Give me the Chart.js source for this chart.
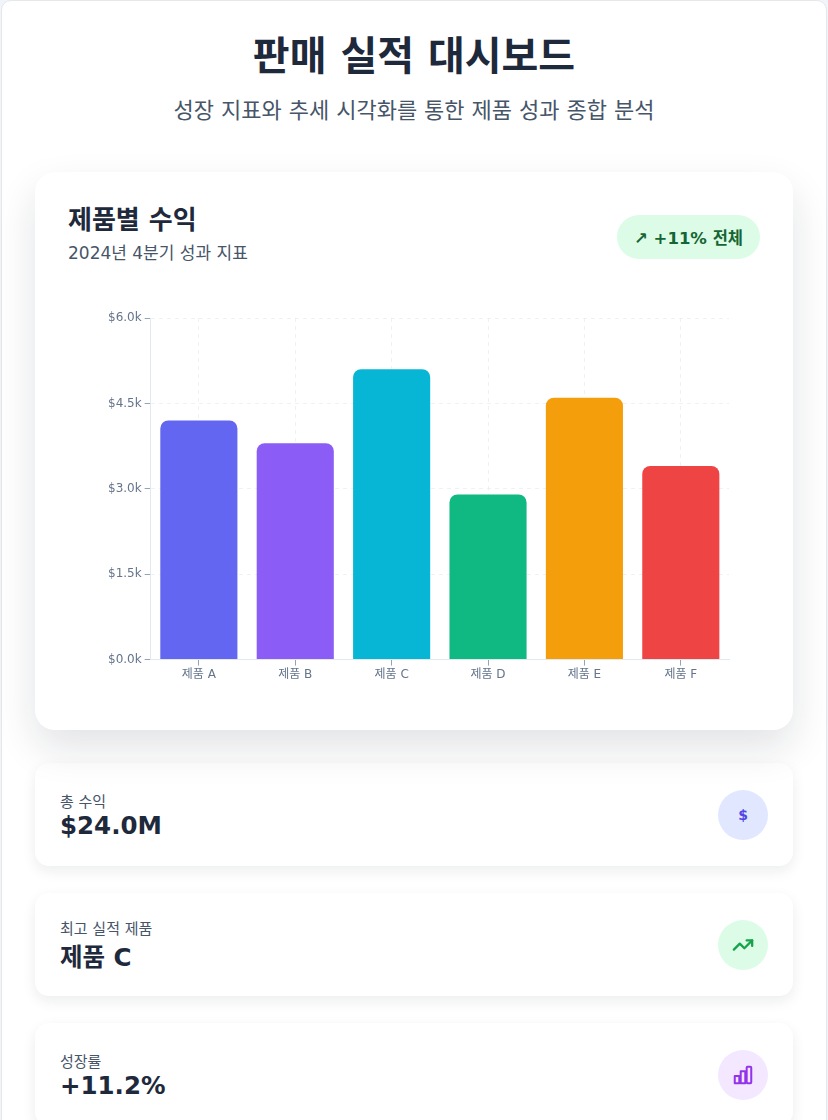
<!DOCTYPE html>
<html lang="ko">
<head>
<meta charset="utf-8">
<script src="https://cdn.jsdelivr.net/npm/chart.js@4.4.1/dist/chart.umd.min.js"></script>
<style>
  body { margin: 0; background: #f1f5f9; font-family: "DejaVu Sans", "Noto Sans CJK KR", sans-serif; color: #1e293b; }
  .page { background: #fff; border: 1px solid #e5e7eb; border-radius: 10px; margin: 0 1px; min-height: 1200px; box-sizing: border-box; padding: 30px 33px 0; }
  h1 { margin: 0; text-align: center; font-size: 40px; font-weight: 700; line-height: 50px; }
  .sub { text-align: center; font-size: 22px; color: #475569; margin-top: 11px; }
  .card { background: #fff; border-radius: 20px; box-shadow: 0 18px 40px rgba(15, 23, 42, 0.12); margin-top: 48px; padding: 30px 33px 20px; height: 558px; box-sizing: border-box; position: relative; }
  .card h2 { margin: 0; font-size: 26px; font-weight: 700; line-height: 36px; }
  .card .desc { font-size: 17px; color: #475569; margin-top: 1px; }
  .badge { position: absolute; right: 33px; top: 43px; background: #dcfce7; color: #166534; font-weight: 700; font-size: 16.5px; border-radius: 22px; padding: 10px 17px; }
  .chartbox { position: relative; height: 378px; margin-top: 42px; }
  .stat { background: #fff; border-radius: 14px; box-shadow: 0 5px 14px rgba(15, 23, 42, 0.08); height: 103px; margin-top: 33px; padding: 0 25px; display: flex; align-items: center; justify-content: space-between; box-sizing: border-box; }
  .stat + .stat { margin-top: 27px; }
  .stat .lbl { font-size: 15px; color: #475569; }
  .stat .val { font-size: 24.5px; font-weight: 700; margin-top: 0; }
  .icon { width: 50px; height: 50px; border-radius: 50%; display: flex; align-items: center; justify-content: center; font-weight: 700; font-size: 14px; }
</style>
</head>
<body>
<div class="page">
  <h1>판매 실적 대시보드</h1>
  <div class="sub">성장 지표와 추세 시각화를 통한 제품 성과 종합 분석</div>

  <div class="card">
    <h2>제품별 수익</h2>
    <div class="desc">2024년 4분기 성과 지표</div>
    <div class="badge">↗ +11% 전체</div>
    <div class="chartbox"><canvas id="revenue_chart"></canvas></div>
  </div>

  <div class="stat">
    <div><div class="lbl">총 수익</div><div class="val">$24.0M</div></div>
    <div class="icon" style="background:#e0e7ff;color:#4f46e5;">$</div>
  </div>
  <div class="stat">
    <div><div class="lbl">최고 실적 제품</div><div class="val">제품 C</div></div>
    <div class="icon" style="background:#dcfce7;">
      <svg width="22" height="22" viewBox="0 0 24 24" fill="none" stroke="#16a34a" stroke-width="2.5" stroke-linecap="round" stroke-linejoin="round"><polyline points="22 7 13.5 15.5 8.5 10.5 2 17"/><polyline points="16 7 22 7 22 13"/></svg>
    </div>
  </div>
  <div class="stat">
    <div><div class="lbl">성장률</div><div class="val">+11.2%</div></div>
    <div class="icon" style="background:#f3e8ff;">
      <svg width="22" height="22" viewBox="0 0 24 24" fill="none" stroke="#9333ea" stroke-width="2.2" stroke-linejoin="round"><rect x="3" y="13" width="5" height="8"/><rect x="9.5" y="8" width="5" height="13"/><rect x="16" y="3" width="5" height="18" rx="1"/></svg>
    </div>
  </div>
</div>

<script>
const PRODUCTS = ["제품 A", "제품 B", "제품 C", "제품 D", "제품 E", "제품 F"];
const REVENUE = [4200, 3800, 5100, 2900, 4600, 3400];
const BAR_COLORS = ["#6366f1", "#8b5cf6", "#06b6d4", "#10b981", "#f59e0b", "#ef4444"];

window.onload = init;

function init() {
  const ctx = document.getElementById("revenue_chart");
  new Chart(ctx, {
    type: "bar",
    data: {
      labels: PRODUCTS,
      datasets: [{
        data: REVENUE,
        backgroundColor: BAR_COLORS,
        borderRadius: 8,
        barPercentage: 0.8,
        categoryPercentage: 1.0,
      }],
    },
    options: getOptions(),
  });
}

function getOptions() {
  const tickFont = { family: "'DejaVu Sans', 'Noto Sans CJK KR', sans-serif", size: 12 };
  return {
    responsive: true,
    maintainAspectRatio: false,
    animation: false,
    layout: { padding: { left: 37, right: 31, top: 12 } },
    plugins: { legend: { display: false }, tooltip: { enabled: false } },
    scales: {
      x: {
        grid: { offset: false, color: "rgba(226,232,240,0.6)", tickColor: "#94a3b8", tickLength: 6 },
        border: { color: "#e2e8f0", dash: [4, 4] },
        ticks: { color: "#64748b", font: tickFont, padding: 2 },
      },
      y: {
        min: 0,
        max: 6000,
        ticks: {
          stepSize: 1500,
          color: "#64748b",
          font: tickFont,
          callback: (v) => "$" + (v / 1000).toFixed(1) + "k",
        },
        grid: { color: "rgba(226,232,240,0.6)", tickColor: "#94a3b8", tickLength: 6 },
        border: { color: "#e2e8f0", dash: [4, 4] },
      },
    },
  };
}
</script>
</body>
</html>
